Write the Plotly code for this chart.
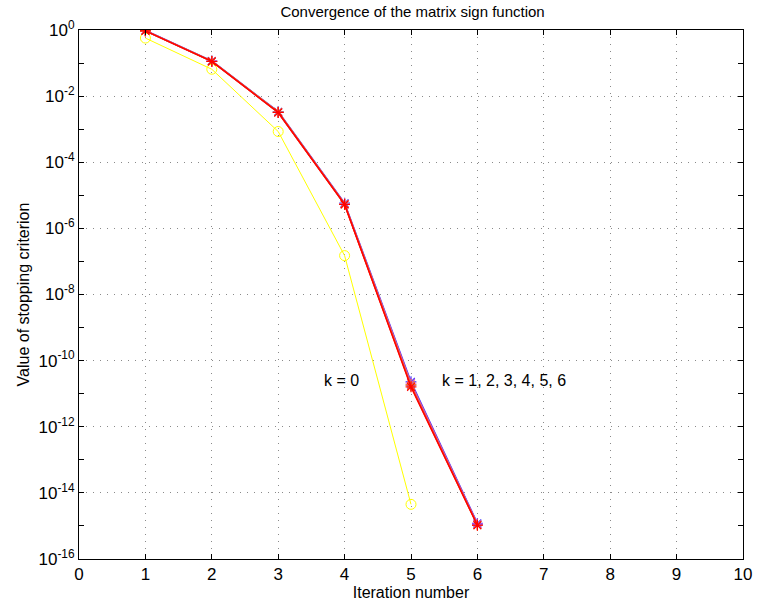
import plotly.graph_objects as go

# Stopping-criterion values per Newton iteration
iterations_k0 = [1, 2, 3, 4, 5]
criterion_k0 = [0.57, 0.065, 8.5e-4, 1.5e-7, 4.5e-15]

iterations = [1, 2, 3, 4, 5, 6]
criterion_k = {
    1: [0.97, 0.116, 3.4e-3, 5.8e-6, 2.3e-11, 1.2e-15],
    2: [0.96, 0.115, 3.3e-3, 5.6e-6, 2.1e-11, 1.15e-15],
    3: [0.95, 0.114, 3.3e-3, 5.5e-6, 1.9e-11, 1.1e-15],
    4: [0.95, 0.113, 3.2e-3, 5.4e-6, 1.8e-11, 1.1e-15],
    5: [0.94, 0.112, 3.2e-3, 5.3e-6, 1.7e-11, 1.05e-15],
    6: [0.94, 0.112, 3.2e-3, 5.3e-6, 1.6e-11, 1.05e-15],
}
series_colors = {1: "#3030ff", 2: "#d040d0", 3: "#ff9900", 4: "#a040ff", 5: "#ff6600", 6: "#ff0000"}

x_ticks = list(range(0, 11))
y_exponents = list(range(0, -17, -2))
y_minor_exponents = list(range(-1, -17, -2))

font = "Liberation Sans, Arial, Helvetica, sans-serif"
grid_dash = "1px,6px"

fig = go.Figure()

fig.add_trace(go.Scatter(
    x=iterations_k0, y=criterion_k0, mode="lines+markers",
    line=dict(color="#ffff00", width=1),
    marker=dict(symbol="circle-open", size=10, color="#ffff00", line=dict(width=1)),
    showlegend=False,
))

for k, vals in criterion_k.items():
    fig.add_trace(go.Scatter(
        x=iterations, y=vals, mode="lines+markers",
        line=dict(color=series_colors[k], width=1.5),
        marker=dict(symbol="asterisk-open", size=9, color=series_colors[k],
                    line=dict(width=1.1, color=series_colors[k])),
        showlegend=False,
    ))

fig.add_annotation(x=3.96, y=-10.6, text="k = 0", showarrow=False,
                   xanchor="center", yanchor="middle", font=dict(size=16, color="black"))
fig.add_annotation(x=5.43, y=-10.6, text="k = 1, 2, 3, 4, 5, 6", showarrow=False,
                   xanchor="left", yanchor="middle", font=dict(size=16, color="black"))

fig.update_layout(
    width=764, height=610,
    margin=dict(l=79, r=15, t=30, b=48),
    paper_bgcolor="white", plot_bgcolor="white",
    font=dict(family=font, size=16, color="black"),
    title=dict(text="Convergence of the matrix sign function", x=0.54, xanchor="center",
               y=0.98, yanchor="middle", yref="container", font=dict(size=15)),
)

fig.update_xaxes(
    range=[0, 10], tickvals=x_ticks, ticktext=[str(v) for v in x_ticks],
    ticks="inside", ticklen=5, tickcolor="black", mirror="ticks",
    showline=True, linecolor="black", linewidth=1,
    showgrid=True, gridcolor="#8a8a8a", griddash=grid_dash, gridwidth=1,
    zeroline=False, tickfont=dict(size=17),
    title=dict(text="Iteration number", font=dict(size=16), standoff=2),
)

fig.update_yaxes(
    type="log", range=[-16, 0],
    tickvals=[10.0 ** e for e in y_exponents],
    ticktext=["10<sup>%d</sup>" % e for e in y_exponents],
    ticks="inside", ticklen=5, tickcolor="black", mirror="ticks",
    showline=True, linecolor="black", linewidth=1,
    showgrid=True, gridcolor="#8a8a8a", griddash=grid_dash, gridwidth=1,
    zeroline=False, tickfont=dict(size=17),
    minor=dict(tickvals=[10.0 ** e for e in y_minor_exponents], ticks="inside",
               ticklen=5, tickcolor="black", showgrid=False),
    title=dict(text="Value of stopping criterion", font=dict(size=16), standoff=4),
)

fig.write_html("out.html")
